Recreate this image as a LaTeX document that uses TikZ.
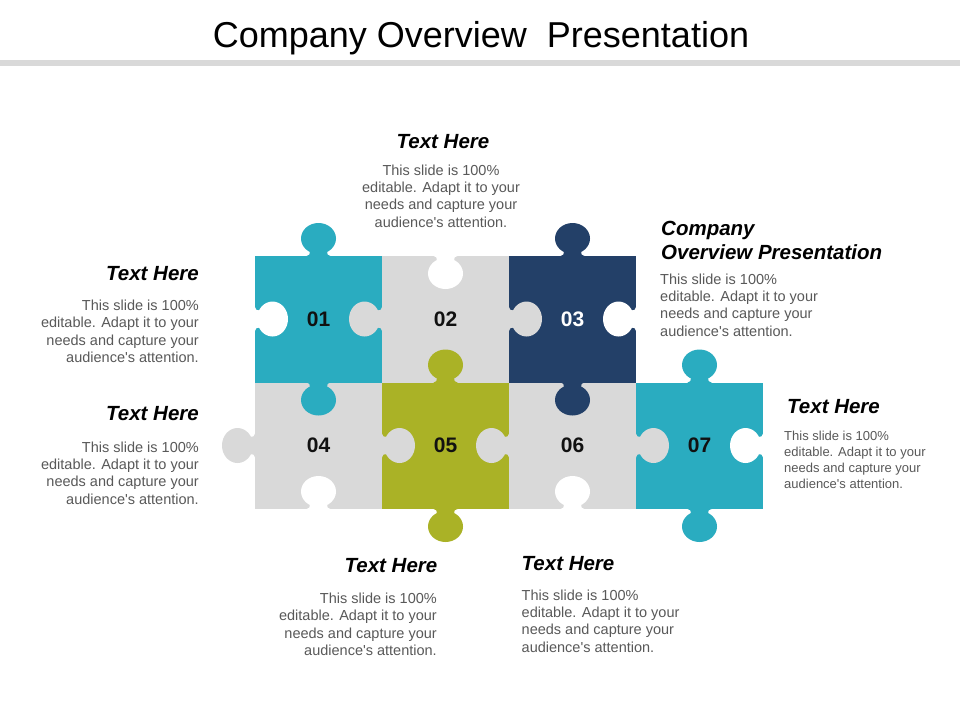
\documentclass[tikz,border=0pt]{standalone}
\usepackage{fontspec}
\setmainfont{Liberation Sans}
\definecolor{cteal}{RGB}{42,172,192}
\definecolor{cnavy}{RGB}{35,64,104}
\definecolor{colive}{RGB}{170,178,38}
\definecolor{cgray}{RGB}{217,217,217}
\definecolor{bodygray}{RGB}{89,89,89}
\definecolor{numblack}{RGB}{17,17,17}
\newcommand{\pzknob}[4]{%
  \begin{scope}[shift={(#1,#2)}, rotate=#3]
    \fill[#4] (0,17.5) ellipse [x radius=17.5, y radius=15.5];
    \fill[#4] (-12,-1) -- (-12,0) .. controls (-9,0) and (-8.5,2) .. (-8.5,5) -- (8.5,5) .. controls (8.5,2) and (9,0) .. (12,0) -- (12,-1) -- cycle;
  \end{scope}}
\begin{document}
\begin{tikzpicture}[x=1pt,y=-1pt,
  head/.style={font=\bfseries\itshape\fontsize{20.5}{24.3}\selectfont, inner sep=0pt},
  body/.style={font=\fontsize{14.5}{17.4}\selectfont, text=bodygray, inner sep=0pt},
  smallbody/.style={font=\fontsize{13}{15.9}\selectfont, text=bodygray, inner sep=0pt},
  cell/.style={minimum width=127pt, minimum height=126.5pt, inner sep=0pt, text=numblack,
    font=\bfseries\fontsize{21}{21}\selectfont}]
\useasboundingbox (0,0) rectangle (960,720);
\fill[white] (0,0) rectangle (960,720);
% title and bar
\node[font=\fontsize{36}{40}\selectfont, anchor=base, inner sep=0pt] (title) at (481,47) {Company Overview~ Presentation};
\fill[cgray] (0,60) rectangle (960,66);
% cells
\node[cell, fill=cteal] (p01) at (318.5,319.25) {01};
\node[cell, fill=cgray] (p02) at (445.5,319.25) {02};
\node[cell, fill=cnavy, text=white] (p03) at (572.5,319.25) {03};
\node[cell, fill=cgray] (p04) at (318.5,445.75) {04};
\node[cell, fill=colive] (p05) at (445.5,445.75) {05};
\node[cell, fill=cgray] (p06) at (572.5,445.75) {06};
\node[cell, fill=cteal] (p07) at (699.5,445.75) {07};
% knobs and holes
\pzknob{318.5}{256}{180}{cteal}
\pzknob{255}{319}{90}{white}
\pzknob{318.5}{382.5}{0}{cteal}
\pzknob{382}{319}{-90}{cgray}
\pzknob{445.5}{256}{0}{white}
\pzknob{509}{319}{90}{cgray}
\pzknob{572.5}{256}{180}{cnavy}
\pzknob{636}{319}{-90}{white}
\pzknob{572.5}{382.5}{0}{cnavy}
\pzknob{255}{445.5}{-90}{cgray}
\pzknob{382}{445.5}{90}{cgray}
\pzknob{318.5}{509}{180}{white}
\pzknob{445.5}{382.5}{180}{colive}
\pzknob{445.5}{509}{0}{colive}
\pzknob{509}{445.5}{-90}{cgray}
\pzknob{636}{445.5}{90}{cgray}
\pzknob{572.5}{509}{180}{white}
\pzknob{699.5}{382.5}{180}{cteal}
\pzknob{763}{445.5}{-90}{white}
\pzknob{699.5}{509}{0}{cteal}
% texts (multi-line nodes: base = baseline of last line)
\node[head, anchor=base] (h1) at (443,148) {Text Here};
\node[body, align=center, anchor=base] (b1) at (441,227.2) {This slide is 100\%\\editable. Adapt it to your\\needs and capture your\\audience\textquotesingle s attention.};
\node[head, anchor=base west, align=left] (h2) at (661,259.3) {Company\\Overview Presentation};
\node[body, align=left, anchor=base west] (b2) at (660,336.2) {This slide is 100\%\\editable. Adapt it to your\\needs and capture your\\audience\textquotesingle s attention.};
\node[head, anchor=base east] (h3) at (199,280) {Text Here};
\node[body, align=right, anchor=base east] (b3) at (199,362.7) {This slide is 100\%\\editable. Adapt it to your\\needs and capture your\\audience\textquotesingle s attention.};
\node[head, anchor=base east] (h4) at (199,420.7) {Text Here};
\node[body, align=right, anchor=base east] (b4) at (199,504.2) {This slide is 100\%\\editable. Adapt it to your\\needs and capture your\\audience\textquotesingle s attention.};
\node[head, anchor=base west] (h5) at (787,413) {Text Here};
\node[smallbody, align=left, anchor=base west] (b5) at (784,488.4) {This slide is 100\%\\editable. Adapt it to your\\needs and capture your\\audience\textquotesingle s attention.};
\node[head, anchor=base east] (h6) at (437.5,572.7) {Text Here};
\node[body, align=right, anchor=base east] (b6) at (437,655.5) {This slide is 100\%\\editable. Adapt it to your\\needs and capture your\\audience\textquotesingle s attention.};
\node[head, anchor=base west] (h7) at (521.5,570) {Text Here};
\node[body, align=left, anchor=base west] (b7) at (521.5,652.2) {This slide is 100\%\\editable. Adapt it to your\\needs and capture your\\audience\textquotesingle s attention.};
\end{tikzpicture}
\end{document}
